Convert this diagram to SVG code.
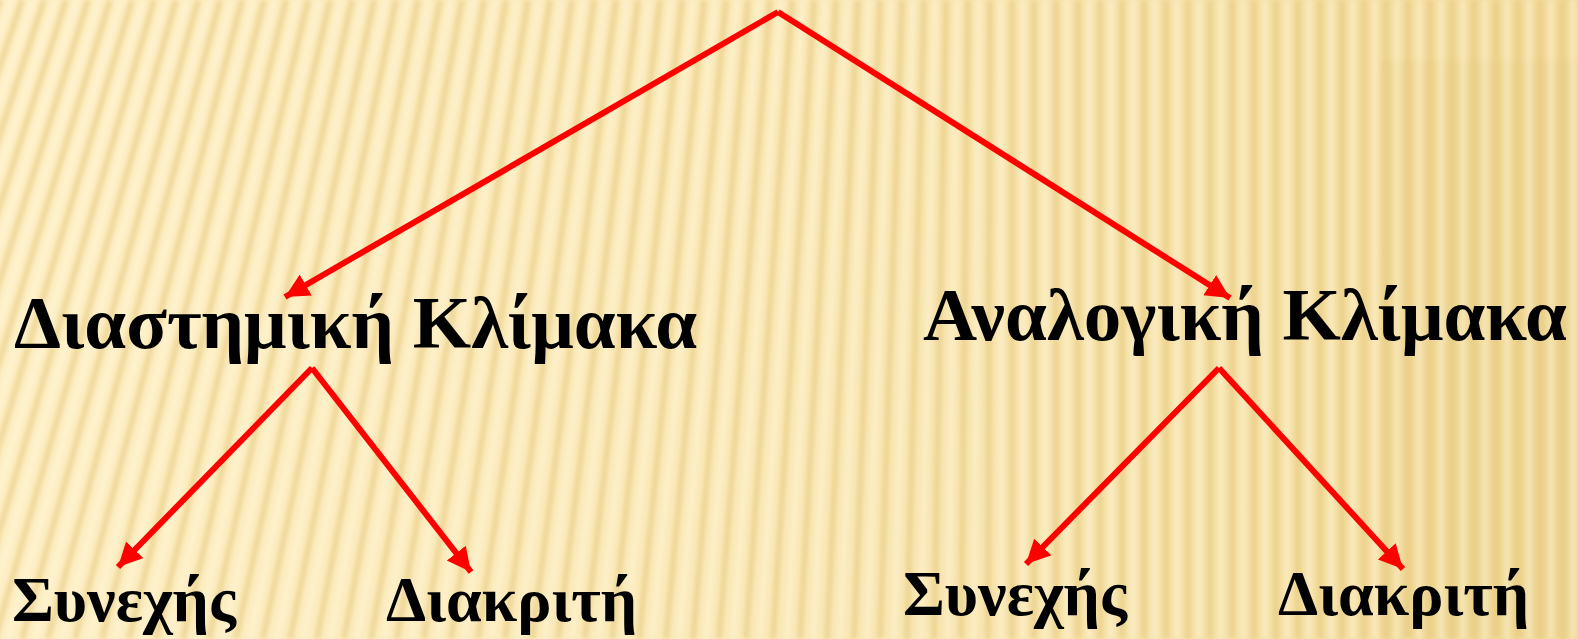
<svg xmlns="http://www.w3.org/2000/svg" width="1578" height="639" viewBox="0 0 1578 639">
  <defs>
    <linearGradient id="bg" x1="0" y1="0" x2="1" y2="0">
      <stop offset="0" stop-color="#FDEFC4"/>
      <stop offset="0.5" stop-color="#FAE9B8"/>
      <stop offset="1" stop-color="#F2DB9B"/>
    </linearGradient>
    <filter id="soft" x="-5%" y="-5%" width="110%" height="110%">
      <feGaussianBlur stdDeviation="2"/>
    </filter>
    <marker id="arrow" markerUnits="userSpaceOnUse" markerWidth="28" markerHeight="26" refX="24" refY="12" orient="auto">
      <path d="M0,0 L24,12 L0,24 Z" fill="#FF0000"/>
    </marker>
    <style>
      .conn { stroke: #FF0000; stroke-width: 6; fill: none; marker-end: url(#arrow); }
      .big { font-family: "Liberation Serif", "Times New Roman", serif; font-weight: bold; font-size: 75px; fill: #000; }
      .small { font-family: "Liberation Serif", "Times New Roman", serif; font-weight: bold; font-size: 64px; fill: #000; }
    </style>
  </defs>

  <g id="background">
    <rect x="0" y="0" width="1578" height="639" fill="url(#bg)"/>
    <rect x="1380" y="60" width="198" height="579" fill="#E9D08A" opacity="0.35" filter="url(#soft)"/>
    <path filter="url(#soft)" stroke="#E3C476" stroke-opacity="0.55" stroke-width="6" fill="none"
      d="M0,0 L-220,639 M22,0 L-193,639 M44,0 L-166,639 M66,0 L-140,639 M88,0 L-113,639 M110,0 L-86,639 M132,0 L-59,639 M154,0 L-32,639 M176,0 L-5,639 M198,0 L22,639 M220,0 L48,639 M242,0 L75,639 M264,0 L102,639 M286,0 L129,639 M308,0 L156,639 M330,0 L183,639 M352,0 L209,639 M374,0 L236,639 M396,0 L263,639 M418,0 L290,639 M440,0 L317,639 M462,0 L344,639 M484,0 L371,639 M506,0 L397,639 M528,0 L424,639 M550,0 L451,639 M572,0 L478,639 M594,0 L505,639 M616,0 L532,639 M638,0 L558,639 M660,0 L585,639 M682,0 L612,639 M704,0 L639,639 M726,0 L666,639 M748,0 L693,639 M770,0 L719,639 M792,0 L746,639 M814,0 L773,639 M836,0 L800,639 M858,0 L827,639 M880,0 L854,639 M902,0 L880,639 M924,0 L907,639 M946,0 L934,639 M968,0 L961,639 M990,0 L988,639 M1012,0 L1012,639 M1034,0 L1034,639 M1056,0 L1056,639 M1078,0 L1078,639 M1100,0 L1100,639 M1122,0 L1122,639 M1144,0 L1144,639 M1166,0 L1166,639 M1188,0 L1188,639 M1210,0 L1210,639 M1232,0 L1232,639 M1254,0 L1254,639 M1276,0 L1276,639 M1298,0 L1298,639 M1320,0 L1320,639 M1342,0 L1342,639 M1364,0 L1364,639 M1386,0 L1386,639 M1408,0 L1408,639 M1430,0 L1430,639 M1452,0 L1452,639 M1474,0 L1474,639 M1496,0 L1496,639 M1518,0 L1518,639 M1540,0 L1540,639 M1562,0 L1562,639"/>
    <path filter="url(#soft)" stroke="#FFF8DC" stroke-opacity="0.5" stroke-width="5" fill="none"
      d="M11,0 L-207,639 M33,0 L-180,639 M55,0 L-153,639 M77,0 L-126,639 M99,0 L-99,639 M121,0 L-72,639 M143,0 L-45,639 M165,0 L-19,639 M187,0 L8,639 M209,0 L35,639 M231,0 L62,639 M253,0 L89,639 M275,0 L115,639 M297,0 L142,639 M319,0 L169,639 M341,0 L196,639 M363,0 L223,639 M385,0 L250,639 M407,0 L277,639 M429,0 L303,639 M451,0 L330,639 M473,0 L357,639 M495,0 L384,639 M517,0 L411,639 M539,0 L438,639 M561,0 L464,639 M583,0 L491,639 M605,0 L518,639 M627,0 L545,639 M649,0 L572,639 M671,0 L599,639 M693,0 L625,639 M715,0 L652,639 M737,0 L679,639 M759,0 L706,639 M781,0 L733,639 M803,0 L760,639 M825,0 L787,639 M847,0 L813,639 M869,0 L840,639 M891,0 L867,639 M913,0 L894,639 M935,0 L921,639 M957,0 L948,639 M979,0 L974,639 M1001,0 L1001,639 M1023,0 L1023,639 M1045,0 L1045,639 M1067,0 L1067,639 M1089,0 L1089,639 M1111,0 L1111,639 M1133,0 L1133,639 M1155,0 L1155,639 M1177,0 L1177,639 M1199,0 L1199,639 M1221,0 L1221,639 M1243,0 L1243,639 M1265,0 L1265,639 M1287,0 L1287,639 M1309,0 L1309,639 M1331,0 L1331,639 M1353,0 L1353,639 M1375,0 L1375,639 M1397,0 L1397,639 M1419,0 L1419,639 M1441,0 L1441,639 M1463,0 L1463,639 M1485,0 L1485,639 M1507,0 L1507,639 M1529,0 L1529,639 M1551,0 L1551,639 M1573,0 L1573,639"/>
  </g>

  <g id="connectors">
    <line class="conn" x1="778" y1="12" x2="285" y2="297"/>
    <line class="conn" x1="778" y1="12" x2="1230" y2="298"/>
    <line class="conn" x1="312" y1="368" x2="118" y2="567"/>
    <line class="conn" x1="312" y1="368" x2="471" y2="572"/>
    <line class="conn" x1="1219" y1="368" x2="1026" y2="564"/>
    <line class="conn" x1="1219" y1="368" x2="1403" y2="569"/>
  </g>

  <g id="node-interval">
    <text class="big" x="14" y="348">Διαστημική Κλίμακα</text>
  </g>
  <g id="node-ratio">
    <text class="big" x="923" y="340">Αναλογική Κλίμακα</text>
  </g>
  <g id="node-interval-continuous">
    <text class="small" x="12" y="621">Συνεχής</text>
  </g>
  <g id="node-interval-discrete">
    <text class="small" x="386" y="621">Διακριτή</text>
  </g>
  <g id="node-ratio-continuous">
    <text class="small" x="903" y="615">Συνεχής</text>
  </g>
  <g id="node-ratio-discrete">
    <text class="small" x="1278" y="615">Διακριτή</text>
  </g>
</svg>
